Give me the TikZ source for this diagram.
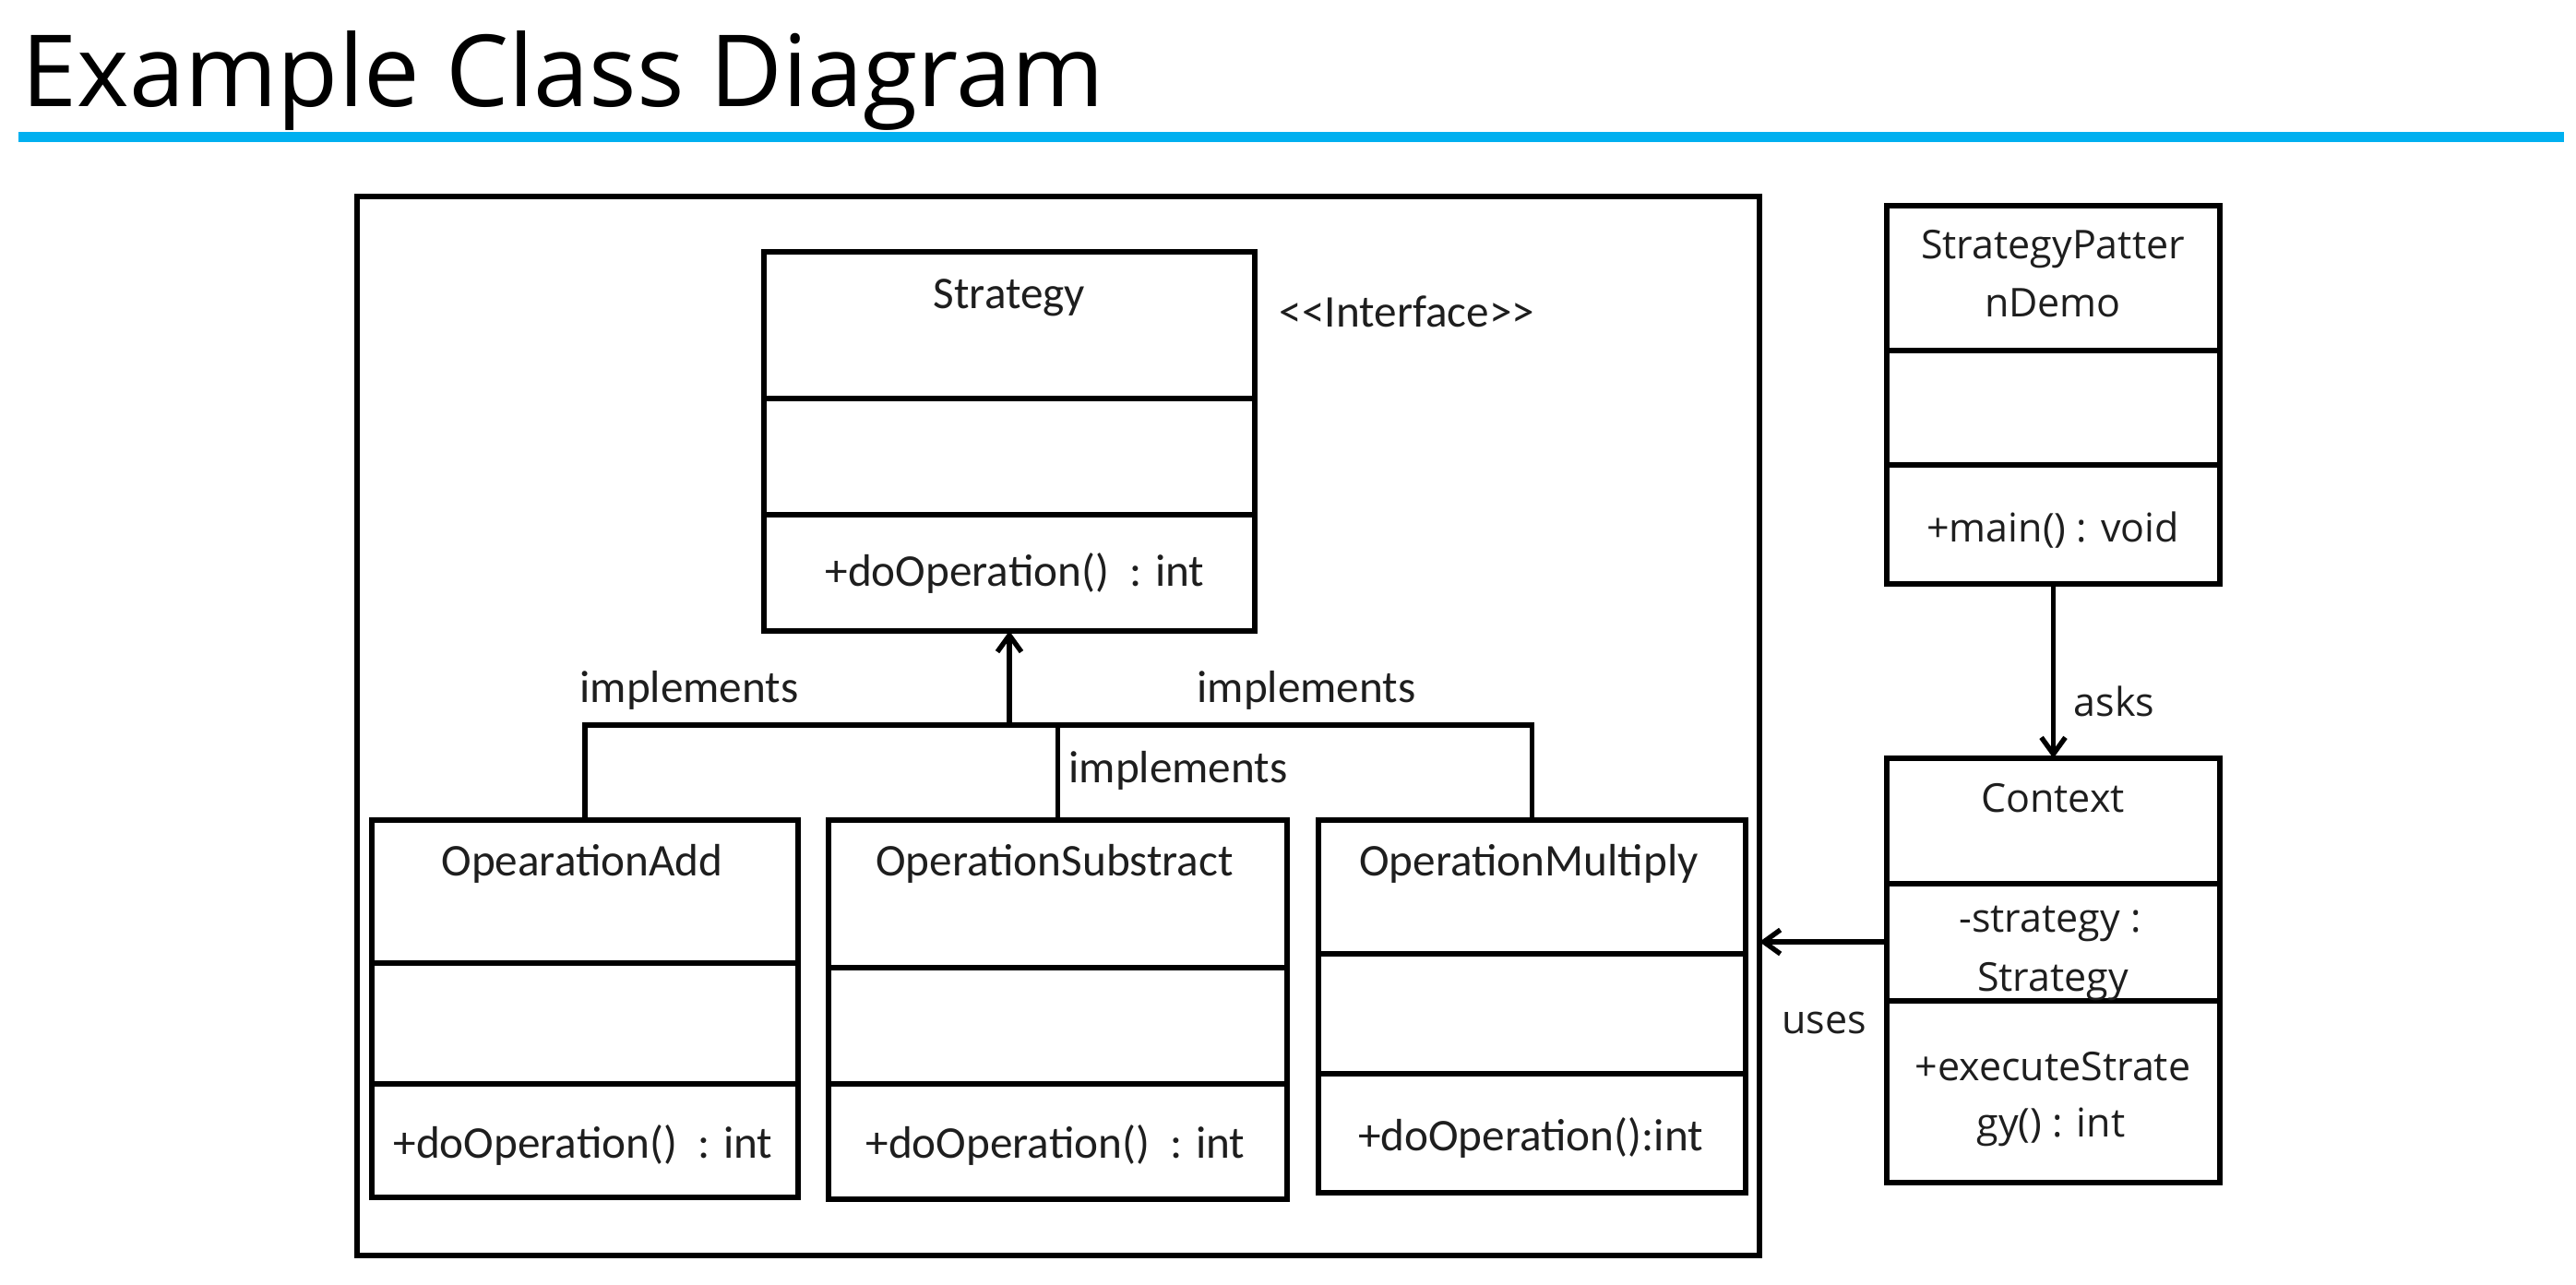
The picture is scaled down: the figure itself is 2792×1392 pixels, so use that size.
\documentclass[tikz,border=0pt]{standalone}
\usepackage{fontspec}
\setmainfont{Carlito}
\newfontfamily\osans{Open Sans}
\usetikzlibrary{arrows.meta,fit}
\definecolor{titleblue}{RGB}{0,176,240}
\definecolor{ink}{RGB}{30,30,30}
\begin{document}
\begin{tikzpicture}[x=0.25pt,y=-0.25pt,
  box/.style={draw=black, line width=1.35pt, inner sep=0pt, outer sep=0pt},
  lbl/.style={inner sep=0pt, anchor=base, text=ink, font=\fontsize{12.3}{14}\selectfont},
  rlbl/.style={inner sep=0pt, anchor=base, text=ink, font=\osans\fontsize{10.75}{13}\selectfont},
  div/.style={line width=1.35pt},
  conn/.style={line width=1.35pt},
  arr/.style={conn, -{Straight Barb[length=4.5pt,width=6.5pt,line width=1.35pt]}}
]
\fill[white] (0,0) rectangle (2792,1392);
\useasboundingbox (0,0) rectangle (2792,1392);

% title
\node[anchor=base west, inner sep=0pt, font=\osans\fontsize{27}{32}\selectfont] (title) at (23,115) {Example Class Diagram};
\draw[titleblue, line width=2.8pt] (20,148.5) -- (2779,148.5);

% outer frame
\node[box, fit={(387,213) (1907,1361)}] (outer) {};

% Strategy
\node[box, fit={(828,273) (1360,684)}] (strat) {};
\draw[div] (strat.west |- 0,432) -- (strat.east |- 0,432);
\draw[div] (strat.west |- 0,558) -- (strat.east |- 0,558);
\node[lbl] (stratname) at (1094,334) {Strategy};
\node[lbl] (stratop) at (1100,635) {+doOperation()\ \ : int};
\node[lbl] (iface) at (1525,354) {<\kern0pt<Interface>\kern0pt>};

% OpearationAdd
\node[box, fit={(403,889) (865,1298)}] (add) {};
\draw[div] (add.west |- 0,1044) -- (add.east |- 0,1044);
\draw[div] (add.west |- 0,1175) -- (add.east |- 0,1175);
\node[lbl] (addname) at (631,949) {OpearationAdd};
\node[lbl] (addop) at (632,1255) {+doOperation()\ \ : int};

% OperationSubstract
\node[box, fit={(898,889) (1395,1300)}] (sub) {};
\draw[div] (sub.west |- 0,1049) -- (sub.east |- 0,1049);
\draw[div] (sub.west |- 0,1175) -- (sub.east |- 0,1175);
\node[lbl] (subname) at (1143,949) {OperationSubstract};
\node[lbl] (subop) at (1144,1255) {+doOperation()\ \ : int};

% OperationMultiply
\node[box, fit={(1429,889) (1892,1293)}] (mult) {};
\draw[div] (mult.west |- 0,1034) -- (mult.east |- 0,1034);
\draw[div] (mult.west |- 0,1164) -- (mult.east |- 0,1164);
\node[lbl] (multname) at (1657,949) {OperationMultiply};
\node[lbl] (multop) at (1659,1247) {+doOperation():int};

% implements connectors
\coordinate (junc) at (1094,786);
\draw[conn] (add.north) |- (junc) -| (mult.north);
\draw[conn] (sub.north) -- (sub.north |- junc);
\draw[arr] (junc) -- (strat.south);
\node[lbl] (implL) at (747,761) {implements};
\node[lbl] (implR) at (1416,761) {implements};
\node[lbl] (implM) at (1277,848) {implements};

% StrategyPatternDemo
\node[box, fit={(2045,223) (2406,633)}] (spd) {};
\draw[div] (spd.west |- 0,380) -- (spd.east |- 0,380);
\draw[div] (spd.west |- 0,504) -- (spd.east |- 0,504);
\node[rlbl] (spdname1) at (2225,280) {StrategyPatter};
\node[rlbl] (spdname2) at (2225,343) {nDemo};
\node[rlbl] (spdop) at (2225,587) {+main() : void};

% Context
\node[box, fit={(2045,822) (2406,1282)}] (ctx) {};
\draw[div] (ctx.west |- 0,958) -- (ctx.east |- 0,958);
\draw[div] (ctx.west |- 0,1085) -- (ctx.east |- 0,1085);
\node[rlbl] (ctxname) at (2225,880) {Context};
\node[rlbl] (ctxattr1) at (2222,1010) {-strategy :};
\node[rlbl] (ctxattr2) at (2225,1074) {Strategy};
\node[rlbl] (ctxop1) at (2225,1171) {+executeStrate};
\node[rlbl] (ctxop2) at (2223,1232) {gy() : int};

% asks / uses
\draw[arr] (spd.south) -- (ctx.north);
\node[rlbl, anchor=base west] (asks) at (2247,776) {asks};
\coordinate (usesy) at (2045,1021);
\draw[arr] (ctx.west |- usesy) -- (outer.east |- usesy);
\node[rlbl] (uses) at (1977,1120) {uses};
\end{tikzpicture}
\end{document}
